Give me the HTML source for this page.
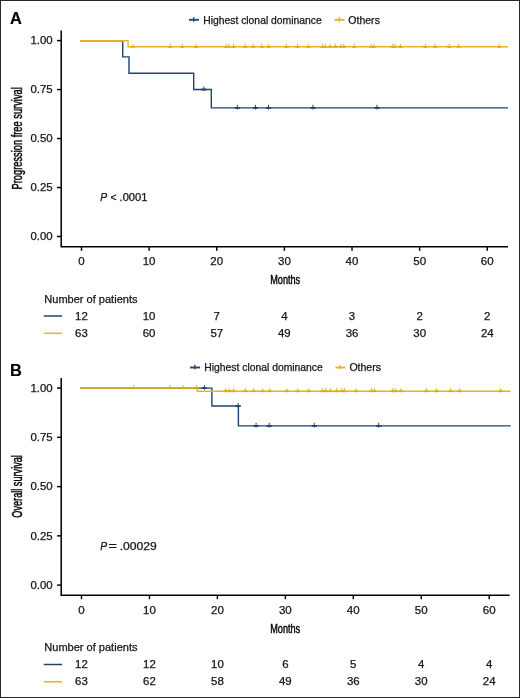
<!DOCTYPE html>
<html><head><meta charset="utf-8"><style>
html,body{margin:0;padding:0;background:#fff;}
body{width:520px;height:698px;overflow:hidden;}
svg{display:block;font-family:"Liberation Sans", sans-serif;will-change:transform;}
</style></head><body>
<svg width="520" height="698" viewBox="0 0 520 698">
<rect x="0" y="0" width="520" height="698" fill="#fff"/>
<rect x="0.5" y="0.5" width="519" height="697" fill="none" stroke="#2a2a2a" stroke-width="1"/>
<text transform="translate(9.9,23.8)" font-size="16.4" font-weight="bold" fill="#000" stroke="#000" stroke-width="0.12">A</text>
<path d="M189,19.8H199" stroke="#23426f" stroke-width="1.9"/>
<path d="M193.7,17.1V21.7" stroke="#23426f" stroke-width="1.3"/>
<text x="203.2" y="23.6" font-size="10.3" fill="#161616" stroke="#161616" stroke-width="0.25" textLength="118.5" lengthAdjust="spacingAndGlyphs">Highest clonal dominance</text>
<path d="M334.4,19.8H344.4" stroke="#e8b522" stroke-width="1.9"/>
<path d="M339.3,17.1V21.7" stroke="#e8b522" stroke-width="1.3"/>
<text x="348.3" y="23.6" font-size="10.3" fill="#161616" stroke="#161616" stroke-width="0.25" textLength="31.6" lengthAdjust="spacingAndGlyphs">Others</text>
<path d="M61.2,30.4V246.8H508" stroke="#000" stroke-width="1.5" fill="none"/>
<path d="M57,40.6H61" stroke="#000" stroke-width="1.45"/>
<text x="52.7" y="44.25" font-size="10.4" fill="#161616" stroke="#161616" stroke-width="0.25" text-anchor="end" textLength="22.26" lengthAdjust="spacingAndGlyphs">1.00</text>
<path d="M57,89.57H61" stroke="#000" stroke-width="1.45"/>
<text x="52.7" y="93.22" font-size="10.4" fill="#161616" stroke="#161616" stroke-width="0.25" text-anchor="end" textLength="22.26" lengthAdjust="spacingAndGlyphs">0.75</text>
<path d="M57,138.55H61" stroke="#000" stroke-width="1.45"/>
<text x="52.7" y="142.2" font-size="10.4" fill="#161616" stroke="#161616" stroke-width="0.25" text-anchor="end" textLength="22.26" lengthAdjust="spacingAndGlyphs">0.50</text>
<path d="M57,187.53H61" stroke="#000" stroke-width="1.45"/>
<text x="52.7" y="191.18" font-size="10.4" fill="#161616" stroke="#161616" stroke-width="0.25" text-anchor="end" textLength="22.26" lengthAdjust="spacingAndGlyphs">0.25</text>
<path d="M57,236.5H61" stroke="#000" stroke-width="1.45"/>
<text x="52.7" y="240.15" font-size="10.4" fill="#161616" stroke="#161616" stroke-width="0.25" text-anchor="end" textLength="22.26" lengthAdjust="spacingAndGlyphs">0.00</text>
<path d="M81.5,246.8V250.8" stroke="#000" stroke-width="1.45"/>
<text x="81.5" y="265.3" font-size="10.5" fill="#161616" stroke="#161616" stroke-width="0.25" text-anchor="middle" textLength="6.42" lengthAdjust="spacingAndGlyphs">0</text>
<path d="M149.13,246.8V250.8" stroke="#000" stroke-width="1.45"/>
<text x="149.13" y="265.3" font-size="10.5" fill="#161616" stroke="#161616" stroke-width="0.25" text-anchor="middle" textLength="12.84" lengthAdjust="spacingAndGlyphs">10</text>
<path d="M216.76,246.8V250.8" stroke="#000" stroke-width="1.45"/>
<text x="216.76" y="265.3" font-size="10.5" fill="#161616" stroke="#161616" stroke-width="0.25" text-anchor="middle" textLength="12.84" lengthAdjust="spacingAndGlyphs">20</text>
<path d="M284.39,246.8V250.8" stroke="#000" stroke-width="1.45"/>
<text x="284.39" y="265.3" font-size="10.5" fill="#161616" stroke="#161616" stroke-width="0.25" text-anchor="middle" textLength="12.84" lengthAdjust="spacingAndGlyphs">30</text>
<path d="M352.02,246.8V250.8" stroke="#000" stroke-width="1.45"/>
<text x="352.02" y="265.3" font-size="10.5" fill="#161616" stroke="#161616" stroke-width="0.25" text-anchor="middle" textLength="12.84" lengthAdjust="spacingAndGlyphs">40</text>
<path d="M419.65,246.8V250.8" stroke="#000" stroke-width="1.45"/>
<text x="419.65" y="265.3" font-size="10.5" fill="#161616" stroke="#161616" stroke-width="0.25" text-anchor="middle" textLength="12.84" lengthAdjust="spacingAndGlyphs">50</text>
<path d="M487.28,246.8V250.8" stroke="#000" stroke-width="1.45"/>
<text x="487.28" y="265.3" font-size="10.5" fill="#161616" stroke="#161616" stroke-width="0.25" text-anchor="middle" textLength="12.84" lengthAdjust="spacingAndGlyphs">60</text>
<text x="285.2" y="284.3" font-size="13" fill="#000" stroke="#000" stroke-width="0.45" text-anchor="middle" textLength="30" lengthAdjust="spacingAndGlyphs">Months</text>
<text transform="translate(21.8,138.35) rotate(-90)" x="0" y="0" font-size="13.9" fill="#000" stroke="#000" stroke-width="0.45" text-anchor="middle" textLength="102.3" lengthAdjust="spacingAndGlyphs">Progression free survival</text>
<text x="100.2" y="200.9" font-size="10.4" font-style="italic" fill="#161616" stroke="#161616" stroke-width="0.25">P</text>
<text x="110.6" y="200.9" font-size="10.4" fill="#161616" stroke="#161616" stroke-width="0.25">&lt;</text>
<text x="119.6" y="200.9" font-size="10.4" fill="#161616" stroke="#161616" stroke-width="0.25" text-anchor="start" textLength="27.84" lengthAdjust="spacingAndGlyphs">.0001</text>
<path d="M80,40.7H122.7V56.9H129V73.2H193.7V89.5H211.3V107.9H508" stroke="#23426f" stroke-width="1.4" fill="none"/>
<path d="M201.2,89.5H206.4" stroke="#23426f" stroke-width="1.8" fill="none"/><path d="M203.8,86.4V91.1" stroke="#23426f" stroke-width="1.0" fill="none"/>
<path d="M234.7,107.9H239.9" stroke="#23426f" stroke-width="1.8" fill="none"/><path d="M237.3,104.8V109.5" stroke="#23426f" stroke-width="1.0" fill="none"/>
<path d="M252.8,107.9H258" stroke="#23426f" stroke-width="1.8" fill="none"/><path d="M255.4,104.8V109.5" stroke="#23426f" stroke-width="1.0" fill="none"/>
<path d="M265.9,107.9H271.1" stroke="#23426f" stroke-width="1.8" fill="none"/><path d="M268.5,104.8V109.5" stroke="#23426f" stroke-width="1.0" fill="none"/>
<path d="M310.4,107.9H315.6" stroke="#23426f" stroke-width="1.8" fill="none"/><path d="M313,104.8V109.5" stroke="#23426f" stroke-width="1.0" fill="none"/>
<path d="M374.4,107.9H379.6" stroke="#23426f" stroke-width="1.8" fill="none"/><path d="M377,104.8V109.5" stroke="#23426f" stroke-width="1.0" fill="none"/>
<path d="M80,40.7H128.1V46.8H508" stroke="#e8b522" stroke-width="1.4" fill="none"/>
<path d="M130.7,46.8H135.1" stroke="#e0a91c" stroke-width="1.7" fill="none"/>
<path d="M132.9,43.7V48" stroke="#e0a91c" stroke-width="0.9" fill="none"/>
<path d="M168,46.8H172.4" stroke="#e0a91c" stroke-width="1.7" fill="none"/>
<path d="M170.2,43.7V48" stroke="#e0a91c" stroke-width="0.9" fill="none"/>
<path d="M180.2,46.8H184.6" stroke="#e0a91c" stroke-width="1.7" fill="none"/>
<path d="M182.4,43.7V48" stroke="#e0a91c" stroke-width="0.9" fill="none"/>
<path d="M193.7,46.8H198.1" stroke="#e0a91c" stroke-width="1.7" fill="none"/>
<path d="M195.9,43.7V48" stroke="#e0a91c" stroke-width="0.9" fill="none"/>
<path d="M223.8,46.8H228.2" stroke="#e0a91c" stroke-width="1.7" fill="none"/>
<path d="M226,43.7V48" stroke="#e0a91c" stroke-width="0.9" fill="none"/>
<path d="M226.6,46.8H231" stroke="#e0a91c" stroke-width="1.7" fill="none"/>
<path d="M228.8,43.7V48" stroke="#e0a91c" stroke-width="0.9" fill="none"/>
<path d="M231.3,46.8H235.7" stroke="#e0a91c" stroke-width="1.7" fill="none"/>
<path d="M233.5,43.7V48" stroke="#e0a91c" stroke-width="0.9" fill="none"/>
<path d="M243,46.8H247.4" stroke="#e0a91c" stroke-width="1.7" fill="none"/>
<path d="M245.2,43.7V48" stroke="#e0a91c" stroke-width="0.9" fill="none"/>
<path d="M250.9,46.8H255.3" stroke="#e0a91c" stroke-width="1.7" fill="none"/>
<path d="M253.1,43.7V48" stroke="#e0a91c" stroke-width="0.9" fill="none"/>
<path d="M259.6,46.8H264" stroke="#e0a91c" stroke-width="1.7" fill="none"/>
<path d="M261.8,43.7V48" stroke="#e0a91c" stroke-width="0.9" fill="none"/>
<path d="M266.4,46.8H270.8" stroke="#e0a91c" stroke-width="1.7" fill="none"/>
<path d="M268.6,43.7V48" stroke="#e0a91c" stroke-width="0.9" fill="none"/>
<path d="M284.2,46.8H288.6" stroke="#e0a91c" stroke-width="1.7" fill="none"/>
<path d="M286.4,43.7V48" stroke="#e0a91c" stroke-width="0.9" fill="none"/>
<path d="M295.3,46.8H299.7" stroke="#e0a91c" stroke-width="1.7" fill="none"/>
<path d="M297.5,43.7V48" stroke="#e0a91c" stroke-width="0.9" fill="none"/>
<path d="M306.1,46.8H310.5" stroke="#e0a91c" stroke-width="1.7" fill="none"/>
<path d="M308.3,43.7V48" stroke="#e0a91c" stroke-width="0.9" fill="none"/>
<path d="M320.2,46.8H324.6" stroke="#e0a91c" stroke-width="1.7" fill="none"/>
<path d="M322.4,43.7V48" stroke="#e0a91c" stroke-width="0.9" fill="none"/>
<path d="M323,46.8H327.4" stroke="#e0a91c" stroke-width="1.7" fill="none"/>
<path d="M325.2,43.7V48" stroke="#e0a91c" stroke-width="0.9" fill="none"/>
<path d="M327.8,46.8H332.2" stroke="#e0a91c" stroke-width="1.7" fill="none"/>
<path d="M330,43.7V48" stroke="#e0a91c" stroke-width="0.9" fill="none"/>
<path d="M333.1,46.8H337.5" stroke="#e0a91c" stroke-width="1.7" fill="none"/>
<path d="M335.3,43.7V48" stroke="#e0a91c" stroke-width="0.9" fill="none"/>
<path d="M338.8,46.8H343.2" stroke="#e0a91c" stroke-width="1.7" fill="none"/>
<path d="M341,43.7V48" stroke="#e0a91c" stroke-width="0.9" fill="none"/>
<path d="M341.6,46.8H346" stroke="#e0a91c" stroke-width="1.7" fill="none"/>
<path d="M343.8,43.7V48" stroke="#e0a91c" stroke-width="0.9" fill="none"/>
<path d="M352,46.8H356.4" stroke="#e0a91c" stroke-width="1.7" fill="none"/>
<path d="M354.2,43.7V48" stroke="#e0a91c" stroke-width="0.9" fill="none"/>
<path d="M369,46.8H373.4" stroke="#e0a91c" stroke-width="1.7" fill="none"/>
<path d="M371.2,43.7V48" stroke="#e0a91c" stroke-width="0.9" fill="none"/>
<path d="M371.8,46.8H376.2" stroke="#e0a91c" stroke-width="1.7" fill="none"/>
<path d="M374,43.7V48" stroke="#e0a91c" stroke-width="0.9" fill="none"/>
<path d="M390.5,46.8H394.9" stroke="#e0a91c" stroke-width="1.7" fill="none"/>
<path d="M392.7,43.7V48" stroke="#e0a91c" stroke-width="0.9" fill="none"/>
<path d="M392.8,46.8H397.2" stroke="#e0a91c" stroke-width="1.7" fill="none"/>
<path d="M395,43.7V48" stroke="#e0a91c" stroke-width="0.9" fill="none"/>
<path d="M398.2,46.8H402.6" stroke="#e0a91c" stroke-width="1.7" fill="none"/>
<path d="M400.4,43.7V48" stroke="#e0a91c" stroke-width="0.9" fill="none"/>
<path d="M423.2,46.8H427.6" stroke="#e0a91c" stroke-width="1.7" fill="none"/>
<path d="M425.4,43.7V48" stroke="#e0a91c" stroke-width="0.9" fill="none"/>
<path d="M432.8,46.8H437.2" stroke="#e0a91c" stroke-width="1.7" fill="none"/>
<path d="M435,43.7V48" stroke="#e0a91c" stroke-width="0.9" fill="none"/>
<path d="M447.1,46.8H451.5" stroke="#e0a91c" stroke-width="1.7" fill="none"/>
<path d="M449.3,43.7V48" stroke="#e0a91c" stroke-width="0.9" fill="none"/>
<path d="M456.2,46.8H460.6" stroke="#e0a91c" stroke-width="1.7" fill="none"/>
<path d="M458.4,43.7V48" stroke="#e0a91c" stroke-width="0.9" fill="none"/>
<path d="M497,46.8H501.4" stroke="#e0a91c" stroke-width="1.7" fill="none"/>
<path d="M499.2,43.7V48" stroke="#e0a91c" stroke-width="0.9" fill="none"/>
<text x="44.3" y="302.5" font-size="10.4" fill="#161616" stroke="#161616" stroke-width="0.25" textLength="93.2" lengthAdjust="spacingAndGlyphs">Number of patients</text>
<path d="M43.8,316H62" stroke="#23426f" stroke-width="1.5"/>
<path d="M43.8,333.3H62" stroke="#e8b522" stroke-width="1.5"/>
<text x="81.5" y="319.8" font-size="10.6" fill="#161616" stroke="#161616" stroke-width="0.25" text-anchor="middle" textLength="12.73" lengthAdjust="spacingAndGlyphs">12</text>
<text x="81.5" y="336.8" font-size="10.6" fill="#161616" stroke="#161616" stroke-width="0.25" text-anchor="middle" textLength="12.73" lengthAdjust="spacingAndGlyphs">63</text>
<text x="149.13" y="319.8" font-size="10.6" fill="#161616" stroke="#161616" stroke-width="0.25" text-anchor="middle" textLength="12.73" lengthAdjust="spacingAndGlyphs">10</text>
<text x="149.13" y="336.8" font-size="10.6" fill="#161616" stroke="#161616" stroke-width="0.25" text-anchor="middle" textLength="12.73" lengthAdjust="spacingAndGlyphs">60</text>
<text x="216.76" y="319.8" font-size="10.6" fill="#161616" stroke="#161616" stroke-width="0.25" text-anchor="middle" textLength="6.37" lengthAdjust="spacingAndGlyphs">7</text>
<text x="216.76" y="336.8" font-size="10.6" fill="#161616" stroke="#161616" stroke-width="0.25" text-anchor="middle" textLength="12.73" lengthAdjust="spacingAndGlyphs">57</text>
<text x="284.39" y="319.8" font-size="10.6" fill="#161616" stroke="#161616" stroke-width="0.25" text-anchor="middle" textLength="6.37" lengthAdjust="spacingAndGlyphs">4</text>
<text x="284.39" y="336.8" font-size="10.6" fill="#161616" stroke="#161616" stroke-width="0.25" text-anchor="middle" textLength="12.73" lengthAdjust="spacingAndGlyphs">49</text>
<text x="352.02" y="319.8" font-size="10.6" fill="#161616" stroke="#161616" stroke-width="0.25" text-anchor="middle" textLength="6.37" lengthAdjust="spacingAndGlyphs">3</text>
<text x="352.02" y="336.8" font-size="10.6" fill="#161616" stroke="#161616" stroke-width="0.25" text-anchor="middle" textLength="12.73" lengthAdjust="spacingAndGlyphs">36</text>
<text x="419.65" y="319.8" font-size="10.6" fill="#161616" stroke="#161616" stroke-width="0.25" text-anchor="middle" textLength="6.37" lengthAdjust="spacingAndGlyphs">2</text>
<text x="419.65" y="336.8" font-size="10.6" fill="#161616" stroke="#161616" stroke-width="0.25" text-anchor="middle" textLength="12.73" lengthAdjust="spacingAndGlyphs">30</text>
<text x="487.28" y="319.8" font-size="10.6" fill="#161616" stroke="#161616" stroke-width="0.25" text-anchor="middle" textLength="6.37" lengthAdjust="spacingAndGlyphs">2</text>
<text x="487.28" y="336.8" font-size="10.6" fill="#161616" stroke="#161616" stroke-width="0.25" text-anchor="middle" textLength="12.73" lengthAdjust="spacingAndGlyphs">24</text>
<text transform="translate(9.9,375.8)" font-size="16.4" font-weight="bold" fill="#000" stroke="#000" stroke-width="0.12">B</text>
<path d="M190.1,367.5H200.1" stroke="#23426f" stroke-width="1.9"/>
<path d="M194.8,364.8V369.4" stroke="#23426f" stroke-width="1.3"/>
<text x="204.3" y="371.3" font-size="10.3" fill="#161616" stroke="#161616" stroke-width="0.25" textLength="118.5" lengthAdjust="spacingAndGlyphs">Highest clonal dominance</text>
<path d="M335.5,367.5H345.5" stroke="#e8b522" stroke-width="1.9"/>
<path d="M340.4,364.8V369.4" stroke="#e8b522" stroke-width="1.3"/>
<text x="349.4" y="371.3" font-size="10.3" fill="#161616" stroke="#161616" stroke-width="0.25" textLength="31.6" lengthAdjust="spacingAndGlyphs">Others</text>
<path d="M61.2,378.1V595.2H509.6" stroke="#000" stroke-width="1.5" fill="none"/>
<path d="M57,388.1H61" stroke="#000" stroke-width="1.45"/>
<text x="52.7" y="391.75" font-size="10.4" fill="#161616" stroke="#161616" stroke-width="0.25" text-anchor="end" textLength="22.26" lengthAdjust="spacingAndGlyphs">1.00</text>
<path d="M57,437.35H61" stroke="#000" stroke-width="1.45"/>
<text x="52.7" y="441" font-size="10.4" fill="#161616" stroke="#161616" stroke-width="0.25" text-anchor="end" textLength="22.26" lengthAdjust="spacingAndGlyphs">0.75</text>
<path d="M57,486.6H61" stroke="#000" stroke-width="1.45"/>
<text x="52.7" y="490.25" font-size="10.4" fill="#161616" stroke="#161616" stroke-width="0.25" text-anchor="end" textLength="22.26" lengthAdjust="spacingAndGlyphs">0.50</text>
<path d="M57,535.85H61" stroke="#000" stroke-width="1.45"/>
<text x="52.7" y="539.5" font-size="10.4" fill="#161616" stroke="#161616" stroke-width="0.25" text-anchor="end" textLength="22.26" lengthAdjust="spacingAndGlyphs">0.25</text>
<path d="M57,585.1H61" stroke="#000" stroke-width="1.45"/>
<text x="52.7" y="588.75" font-size="10.4" fill="#161616" stroke="#161616" stroke-width="0.25" text-anchor="end" textLength="22.26" lengthAdjust="spacingAndGlyphs">0.00</text>
<path d="M81.5,595.2V599.2" stroke="#000" stroke-width="1.45"/>
<text x="81.5" y="613.7" font-size="10.5" fill="#161616" stroke="#161616" stroke-width="0.25" text-anchor="middle" textLength="6.42" lengthAdjust="spacingAndGlyphs">0</text>
<path d="M149.45,595.2V599.2" stroke="#000" stroke-width="1.45"/>
<text x="149.45" y="613.7" font-size="10.5" fill="#161616" stroke="#161616" stroke-width="0.25" text-anchor="middle" textLength="12.84" lengthAdjust="spacingAndGlyphs">10</text>
<path d="M217.4,595.2V599.2" stroke="#000" stroke-width="1.45"/>
<text x="217.4" y="613.7" font-size="10.5" fill="#161616" stroke="#161616" stroke-width="0.25" text-anchor="middle" textLength="12.84" lengthAdjust="spacingAndGlyphs">20</text>
<path d="M285.35,595.2V599.2" stroke="#000" stroke-width="1.45"/>
<text x="285.35" y="613.7" font-size="10.5" fill="#161616" stroke="#161616" stroke-width="0.25" text-anchor="middle" textLength="12.84" lengthAdjust="spacingAndGlyphs">30</text>
<path d="M353.3,595.2V599.2" stroke="#000" stroke-width="1.45"/>
<text x="353.3" y="613.7" font-size="10.5" fill="#161616" stroke="#161616" stroke-width="0.25" text-anchor="middle" textLength="12.84" lengthAdjust="spacingAndGlyphs">40</text>
<path d="M421.25,595.2V599.2" stroke="#000" stroke-width="1.45"/>
<text x="421.25" y="613.7" font-size="10.5" fill="#161616" stroke="#161616" stroke-width="0.25" text-anchor="middle" textLength="12.84" lengthAdjust="spacingAndGlyphs">50</text>
<path d="M489.2,595.2V599.2" stroke="#000" stroke-width="1.45"/>
<text x="489.2" y="613.7" font-size="10.5" fill="#161616" stroke="#161616" stroke-width="0.25" text-anchor="middle" textLength="12.84" lengthAdjust="spacingAndGlyphs">60</text>
<text x="285.2" y="632.8" font-size="13" fill="#000" stroke="#000" stroke-width="0.45" text-anchor="middle" textLength="30" lengthAdjust="spacingAndGlyphs">Months</text>
<text transform="translate(21.8,486.4) rotate(-90)" x="0" y="0" font-size="13.9" fill="#000" stroke="#000" stroke-width="0.45" text-anchor="middle" textLength="62.6" lengthAdjust="spacingAndGlyphs">Overall survival</text>
<text x="100.2" y="549.6" font-size="10.4" font-style="italic" fill="#161616" stroke="#161616" stroke-width="0.25">P</text>
<text x="108.4" y="549.6" font-size="10.4" fill="#161616" stroke="#161616" stroke-width="0.25" textLength="8.4" lengthAdjust="spacingAndGlyphs">=</text>
<text x="119.7" y="549.6" font-size="10.4" fill="#161616" stroke="#161616" stroke-width="0.25" textLength="37" lengthAdjust="spacingAndGlyphs">.00029</text>
<path d="M80,388.1H211.9V406.01H238.4V425.91H510.7" stroke="#23426f" stroke-width="1.4" fill="none"/>
<path d="M201.8,388.1H207" stroke="#23426f" stroke-width="1.8" fill="none"/><path d="M204.4,385V389.7" stroke="#23426f" stroke-width="1.0" fill="none"/>
<path d="M235.6,406.01H240.8" stroke="#23426f" stroke-width="1.8" fill="none"/><path d="M238.2,402.91V407.61" stroke="#23426f" stroke-width="1.0" fill="none"/>
<path d="M253.5,425.91H258.7" stroke="#23426f" stroke-width="1.8" fill="none"/><path d="M256.1,422.81V427.51" stroke="#23426f" stroke-width="1.0" fill="none"/>
<path d="M266.6,425.91H271.8" stroke="#23426f" stroke-width="1.8" fill="none"/><path d="M269.2,422.81V427.51" stroke="#23426f" stroke-width="1.0" fill="none"/>
<path d="M311.7,425.91H316.9" stroke="#23426f" stroke-width="1.8" fill="none"/><path d="M314.3,422.81V427.51" stroke="#23426f" stroke-width="1.0" fill="none"/>
<path d="M376.1,425.91H381.3" stroke="#23426f" stroke-width="1.8" fill="none"/><path d="M378.7,422.81V427.51" stroke="#23426f" stroke-width="1.0" fill="none"/>
<path d="M80,388.1H197.2V391.23H510.7" stroke="#e8b522" stroke-width="1.4" fill="none"/>
<path d="M131.55,388.1H135.95" stroke="#e0a91c" stroke-width="1.7" fill="none"/>
<path d="M133.75,385V389.3" stroke="#e0a91c" stroke-width="0.9" fill="none"/>
<path d="M167.8,388.1H172.2" stroke="#e0a91c" stroke-width="1.7" fill="none"/>
<path d="M170,385V389.3" stroke="#e0a91c" stroke-width="0.9" fill="none"/>
<path d="M180.8,388.1H185.2" stroke="#e0a91c" stroke-width="1.7" fill="none"/>
<path d="M183,385V389.3" stroke="#e0a91c" stroke-width="0.9" fill="none"/>
<path d="M194.1,388.1H198.5" stroke="#e0a91c" stroke-width="1.7" fill="none"/>
<path d="M196.3,385V389.3" stroke="#e0a91c" stroke-width="0.9" fill="none"/>
<path d="M223.6,391.23H228" stroke="#e0a91c" stroke-width="1.7" fill="none"/>
<path d="M225.8,388.13V392.43" stroke="#e0a91c" stroke-width="0.9" fill="none"/>
<path d="M227,391.23H231.4" stroke="#e0a91c" stroke-width="1.7" fill="none"/>
<path d="M229.2,388.13V392.43" stroke="#e0a91c" stroke-width="0.9" fill="none"/>
<path d="M231.3,391.23H235.7" stroke="#e0a91c" stroke-width="1.7" fill="none"/>
<path d="M233.5,388.13V392.43" stroke="#e0a91c" stroke-width="0.9" fill="none"/>
<path d="M243.2,391.23H247.6" stroke="#e0a91c" stroke-width="1.7" fill="none"/>
<path d="M245.4,388.13V392.43" stroke="#e0a91c" stroke-width="0.9" fill="none"/>
<path d="M251.5,391.23H255.9" stroke="#e0a91c" stroke-width="1.7" fill="none"/>
<path d="M253.7,388.13V392.43" stroke="#e0a91c" stroke-width="0.9" fill="none"/>
<path d="M260.5,391.23H264.9" stroke="#e0a91c" stroke-width="1.7" fill="none"/>
<path d="M262.7,388.13V392.43" stroke="#e0a91c" stroke-width="0.9" fill="none"/>
<path d="M267.4,391.23H271.8" stroke="#e0a91c" stroke-width="1.7" fill="none"/>
<path d="M269.6,388.13V392.43" stroke="#e0a91c" stroke-width="0.9" fill="none"/>
<path d="M284.6,391.23H289" stroke="#e0a91c" stroke-width="1.7" fill="none"/>
<path d="M286.8,388.13V392.43" stroke="#e0a91c" stroke-width="0.9" fill="none"/>
<path d="M295.5,391.23H299.9" stroke="#e0a91c" stroke-width="1.7" fill="none"/>
<path d="M297.7,388.13V392.43" stroke="#e0a91c" stroke-width="0.9" fill="none"/>
<path d="M306.6,391.23H311" stroke="#e0a91c" stroke-width="1.7" fill="none"/>
<path d="M308.8,388.13V392.43" stroke="#e0a91c" stroke-width="0.9" fill="none"/>
<path d="M320.5,391.23H324.9" stroke="#e0a91c" stroke-width="1.7" fill="none"/>
<path d="M322.7,388.13V392.43" stroke="#e0a91c" stroke-width="0.9" fill="none"/>
<path d="M323.6,391.23H328" stroke="#e0a91c" stroke-width="1.7" fill="none"/>
<path d="M325.8,388.13V392.43" stroke="#e0a91c" stroke-width="0.9" fill="none"/>
<path d="M328.2,391.23H332.6" stroke="#e0a91c" stroke-width="1.7" fill="none"/>
<path d="M330.4,388.13V392.43" stroke="#e0a91c" stroke-width="0.9" fill="none"/>
<path d="M334.5,391.23H338.9" stroke="#e0a91c" stroke-width="1.7" fill="none"/>
<path d="M336.7,388.13V392.43" stroke="#e0a91c" stroke-width="0.9" fill="none"/>
<path d="M339.7,391.23H344.1" stroke="#e0a91c" stroke-width="1.7" fill="none"/>
<path d="M341.9,388.13V392.43" stroke="#e0a91c" stroke-width="0.9" fill="none"/>
<path d="M342.2,391.23H346.6" stroke="#e0a91c" stroke-width="1.7" fill="none"/>
<path d="M344.4,388.13V392.43" stroke="#e0a91c" stroke-width="0.9" fill="none"/>
<path d="M353.8,391.23H358.2" stroke="#e0a91c" stroke-width="1.7" fill="none"/>
<path d="M356,388.13V392.43" stroke="#e0a91c" stroke-width="0.9" fill="none"/>
<path d="M369.3,391.23H373.7" stroke="#e0a91c" stroke-width="1.7" fill="none"/>
<path d="M371.5,388.13V392.43" stroke="#e0a91c" stroke-width="0.9" fill="none"/>
<path d="M372.2,391.23H376.6" stroke="#e0a91c" stroke-width="1.7" fill="none"/>
<path d="M374.4,388.13V392.43" stroke="#e0a91c" stroke-width="0.9" fill="none"/>
<path d="M390.5,391.23H394.9" stroke="#e0a91c" stroke-width="1.7" fill="none"/>
<path d="M392.7,388.13V392.43" stroke="#e0a91c" stroke-width="0.9" fill="none"/>
<path d="M393.4,391.23H397.8" stroke="#e0a91c" stroke-width="1.7" fill="none"/>
<path d="M395.6,388.13V392.43" stroke="#e0a91c" stroke-width="0.9" fill="none"/>
<path d="M398.6,391.23H403" stroke="#e0a91c" stroke-width="1.7" fill="none"/>
<path d="M400.8,388.13V392.43" stroke="#e0a91c" stroke-width="0.9" fill="none"/>
<path d="M424.1,391.23H428.5" stroke="#e0a91c" stroke-width="1.7" fill="none"/>
<path d="M426.3,388.13V392.43" stroke="#e0a91c" stroke-width="0.9" fill="none"/>
<path d="M434.3,391.23H438.7" stroke="#e0a91c" stroke-width="1.7" fill="none"/>
<path d="M436.5,388.13V392.43" stroke="#e0a91c" stroke-width="0.9" fill="none"/>
<path d="M448.4,391.23H452.8" stroke="#e0a91c" stroke-width="1.7" fill="none"/>
<path d="M450.6,388.13V392.43" stroke="#e0a91c" stroke-width="0.9" fill="none"/>
<path d="M457.4,391.23H461.8" stroke="#e0a91c" stroke-width="1.7" fill="none"/>
<path d="M459.6,388.13V392.43" stroke="#e0a91c" stroke-width="0.9" fill="none"/>
<path d="M498.4,391.23H502.8" stroke="#e0a91c" stroke-width="1.7" fill="none"/>
<path d="M500.6,388.13V392.43" stroke="#e0a91c" stroke-width="0.9" fill="none"/>
<text x="44.3" y="651" font-size="10.4" fill="#161616" stroke="#161616" stroke-width="0.25" textLength="93.2" lengthAdjust="spacingAndGlyphs">Number of patients</text>
<path d="M43.8,664.5H62" stroke="#23426f" stroke-width="1.5"/>
<path d="M43.8,681.8H62" stroke="#e8b522" stroke-width="1.5"/>
<text x="81.5" y="668.3" font-size="10.6" fill="#161616" stroke="#161616" stroke-width="0.25" text-anchor="middle" textLength="12.73" lengthAdjust="spacingAndGlyphs">12</text>
<text x="81.5" y="685.3" font-size="10.6" fill="#161616" stroke="#161616" stroke-width="0.25" text-anchor="middle" textLength="12.73" lengthAdjust="spacingAndGlyphs">63</text>
<text x="149.45" y="668.3" font-size="10.6" fill="#161616" stroke="#161616" stroke-width="0.25" text-anchor="middle" textLength="12.73" lengthAdjust="spacingAndGlyphs">12</text>
<text x="149.45" y="685.3" font-size="10.6" fill="#161616" stroke="#161616" stroke-width="0.25" text-anchor="middle" textLength="12.73" lengthAdjust="spacingAndGlyphs">62</text>
<text x="217.4" y="668.3" font-size="10.6" fill="#161616" stroke="#161616" stroke-width="0.25" text-anchor="middle" textLength="12.73" lengthAdjust="spacingAndGlyphs">10</text>
<text x="217.4" y="685.3" font-size="10.6" fill="#161616" stroke="#161616" stroke-width="0.25" text-anchor="middle" textLength="12.73" lengthAdjust="spacingAndGlyphs">58</text>
<text x="285.35" y="668.3" font-size="10.6" fill="#161616" stroke="#161616" stroke-width="0.25" text-anchor="middle" textLength="6.37" lengthAdjust="spacingAndGlyphs">6</text>
<text x="285.35" y="685.3" font-size="10.6" fill="#161616" stroke="#161616" stroke-width="0.25" text-anchor="middle" textLength="12.73" lengthAdjust="spacingAndGlyphs">49</text>
<text x="353.3" y="668.3" font-size="10.6" fill="#161616" stroke="#161616" stroke-width="0.25" text-anchor="middle" textLength="6.37" lengthAdjust="spacingAndGlyphs">5</text>
<text x="353.3" y="685.3" font-size="10.6" fill="#161616" stroke="#161616" stroke-width="0.25" text-anchor="middle" textLength="12.73" lengthAdjust="spacingAndGlyphs">36</text>
<text x="421.25" y="668.3" font-size="10.6" fill="#161616" stroke="#161616" stroke-width="0.25" text-anchor="middle" textLength="6.37" lengthAdjust="spacingAndGlyphs">4</text>
<text x="421.25" y="685.3" font-size="10.6" fill="#161616" stroke="#161616" stroke-width="0.25" text-anchor="middle" textLength="12.73" lengthAdjust="spacingAndGlyphs">30</text>
<text x="489.2" y="668.3" font-size="10.6" fill="#161616" stroke="#161616" stroke-width="0.25" text-anchor="middle" textLength="6.37" lengthAdjust="spacingAndGlyphs">4</text>
<text x="489.2" y="685.3" font-size="10.6" fill="#161616" stroke="#161616" stroke-width="0.25" text-anchor="middle" textLength="12.73" lengthAdjust="spacingAndGlyphs">24</text>
</svg>
</body></html>
